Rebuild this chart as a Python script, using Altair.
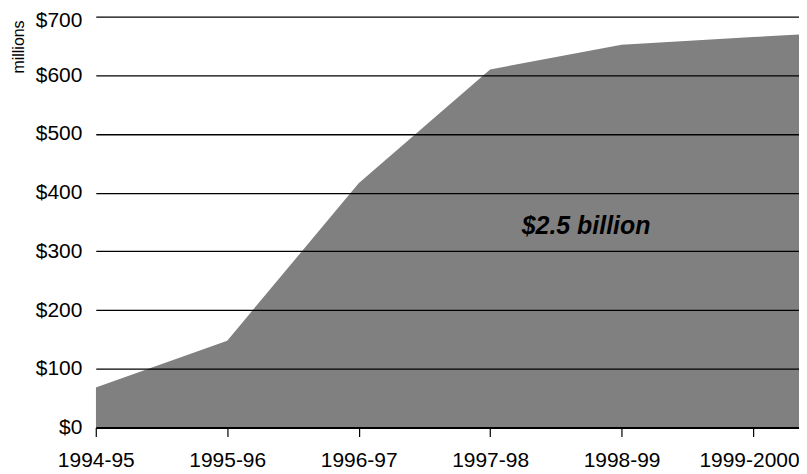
import altair as alt
import pandas as pd

# data
years = ["1994-95", "1995-96", "1996-97", "1997-98", "1998-99", "1999-2000"]
positions = [0, 1, 2, 3, 4, 5, 6]
values = [68, 148, 416, 610, 652, 665, 678]
tick_values = [0, 100, 200, 300, 400, 500, 600, 700]
label_text = ["$2.5 billion"]
label_x = [3.73]
label_y = [343]

df = pd.DataFrame({"pos": positions, "value": values})
lab = pd.DataFrame({"x": label_x, "y": label_y, "t": label_text})

FONT = "Liberation Sans"
label_expr = "[" + ",".join(f"'{y}'" for y in years) + "][datum.value]"

x_scale = alt.Scale(domain=[0, 5.35], nice=False, zero=False)
y_scale = alt.Scale(domain=[0, 700], nice=False)

area = alt.Chart(df).mark_area(color="#808080", clip=True).encode(
    x=alt.X("pos:Q", scale=x_scale,
            axis=alt.Axis(values=[0, 1, 2, 3, 4, 5], labelExpr=label_expr, title=None,
                          grid=False, domainColor="black", domainWidth=2,
                          tickColor="black", tickSize=9, tickWidth=1.2,
                          labelFont=FONT, labelFontSize=21, labelColor="black",
                          labelPadding=13, labelFlush=False, zindex=1,
                          labelOffset=alt.expr("datum.value == 5 ? -4 : 0"))),
    y=alt.Y("value:Q", scale=y_scale,
            axis=alt.Axis(values=tick_values, format="$,d", title="millions",
                          grid=True, gridColor="black", gridWidth=1.3,
                          domain=False, ticks=False,
                          labelFont=FONT, labelFontSize=21, labelColor="black",
                          labelPadding=14,
                          labelOffset=alt.expr("datum.value == 700 ? 4 : 0"),
                          titleFont=FONT, titleFontSize=16, titleFontWeight="normal",
                          titleColor="black", titleAngle=-90,
                          titleX=-77, titleY=30, titleAlign="center",
                          titleBaseline="middle", zindex=1)),
)

text = alt.Chart(lab).mark_text(font=FONT, fontSize=25, fontStyle="italic",
                                fontWeight="bold", color="black").encode(
    x=alt.X("x:Q", scale=x_scale), y=alt.Y("y:Q", scale=y_scale), text="t:N"
)

chart = (area + text).properties(
    width=705, height=412,
    autosize=alt.AutoSizeParams(type="none"),
    padding={"left": 88, "top": 8, "right": 0, "bottom": 44},
).configure_view(stroke=None)

chart.save("out.html", embed_options={"renderer": "svg", "actions": False})
